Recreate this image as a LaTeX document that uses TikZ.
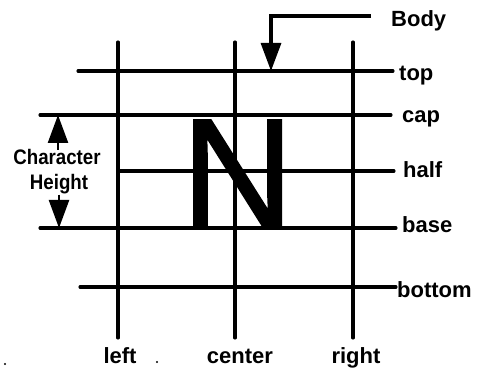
\documentclass[tikz,border=0pt]{standalone}
\usepackage{fontspec}
\setmainfont{Liberation Sans}
\newfontfamily\narrowfont[FakeStretch=0.89]{Liberation Sans}
\newfontfamily\bigfont[FakeBold=1.2]{Liberation Sans}
\usetikzlibrary{arrows.meta}
\tikzset{
  rule/.style={line width=3.1pt, line cap=round},
  lab/.style={inner sep=0pt, anchor=base west, font=\fontsize{22}{22}\selectfont\bfseries},
  blab/.style={inner sep=0pt, anchor=base, font=\fontsize{22}{22}\selectfont\bfseries},
  chlab/.style={inner sep=0pt, anchor=base, font=\narrowfont\fontsize{21}{21}\selectfont\bfseries},
  bigtip/.style={-{Triangle[length=28pt,width=20pt]}},
}
\begin{document}
\begin{tikzpicture}[x=1pt,y=-1pt]
\fill[white] (0,0) rectangle (477,371);
\useasboundingbox (0,0) rectangle (477,371);
% coordinates
\coordinate (topS) at (78,71);   \coordinate (topE) at (393,71);
\coordinate (capS) at (40,115);  \coordinate (capE) at (391,115);
\coordinate (halfS) at (118,171);\coordinate (halfE) at (394,171);
\coordinate (baseS) at (40,228); \coordinate (baseE) at (396,228);
\coordinate (botS) at (80,287);  \coordinate (botE) at (396,287);
\coordinate (vlT) at (118,42);  \coordinate (vlB) at (118,338);
\coordinate (vcT) at (235,42);  \coordinate (vcB) at (235,338);
\coordinate (vrT) at (353,42);  \coordinate (vrB) at (353,338);
\coordinate (bodyS) at (371,16); \coordinate (bodyT) at (271,71);
\coordinate (chUp) at (58,115);  \coordinate (chDn) at (59,228);
% grid lines
\draw[rule] (vlT) -- (vlB);
\draw[rule] (vcT) -- (vcB);
\draw[rule] (vrT) -- (vrB);
\draw[rule] (topS) -- (topE);
\draw[rule] (capS) -- (capE);
\draw[rule] (halfS) -- (halfE);
\draw[rule] (baseS) -- (baseE);
\draw[rule] (botS) -- (botE);
% the letter
\node[inner sep=0pt, anchor=base, font=\bigfont\fontsize{156}{156}\selectfont] (N) at (237.5,227.5) {N};
% labels right
\node[lab] (lbody) at (391,27) {Body};
\node[lab] (ltop) at (399,81) {top};
\node[lab] (lcap) at (402,123) {cap};
\node[lab] (lhalf) at (403,178) {half};
\node[lab] (lbase) at (402,233) {base};
\node[lab] (lbot) at (397,298) {bottom};
% labels bottom
\node[blab] (lleft) at (120,364) {left};
\node[blab] (lcenter) at (240,364) {center};
\node[blab] (lright) at (356,364) {right};
% character height
\node[chlab] (ch1) at (57,165) {Character};
\node[chlab] (ch2) at (59,190) {Height};
\draw[line width=2.4pt, bigtip] (ch1.north -| chUp) -- (chUp);
\draw[line width=2.4pt, bigtip] (ch2.south -| chDn) -- (chDn);
% body arrow
\draw[rule, line cap=butt, bigtip] (bodyS) -| (bodyT);
% specks
\fill (157,362) circle (1.2pt);
\fill (5,364) circle (1.2pt);
\end{tikzpicture}
\end{document}
